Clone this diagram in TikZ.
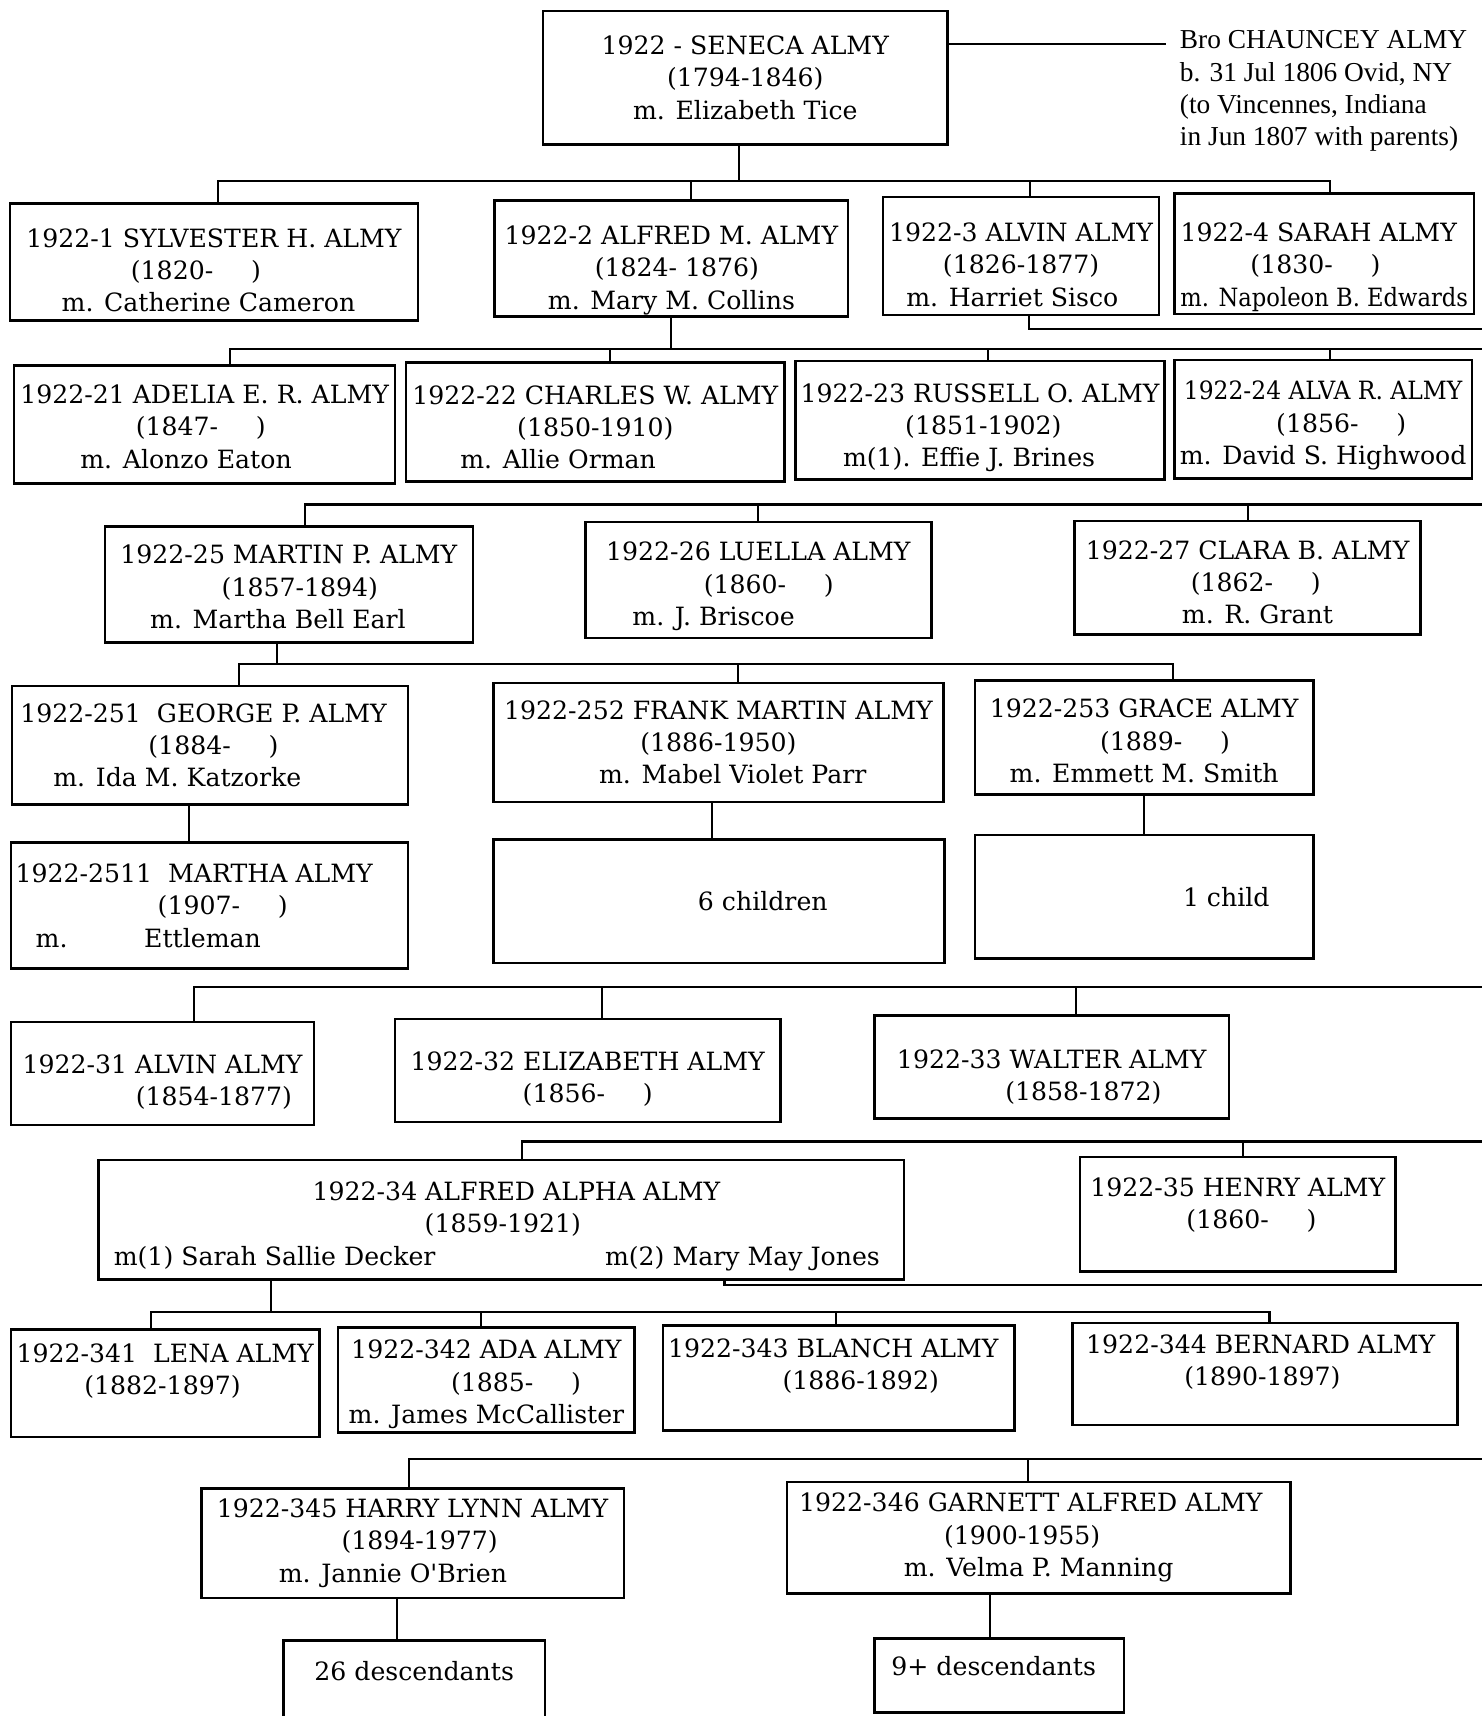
\documentclass[tikz,border=0pt]{standalone}
\usepackage{fontspec}
\setmainfont{DejaVu Serif}
\newfontfamily\brofont{Liberation Serif}
\newcommand\nudge[2]{\hspace*{#1}#2\hspace*{-#1}}
\newcommand\nodeath{\hspace{1.5em}}
\newcommand\sink[1]{\rule{0pt}{#1}}

\tikzset{
  person/.style={draw, line width=2.3pt, align=center, inner sep=0pt,
    font=\fontsize{23}{29.5}\selectfont},
  bro/.style={align=left, inner sep=0pt, font=\brofont\fontsize{25}{29.5}\selectfont},
  link/.style={line width=1.9pt},
}

\begin{document}
\begin{tikzpicture}[x=1pt, y=-1pt]
  \fill[white] (0,0) rectangle (1354,1568);
  \useasboundingbox (0,0) rectangle (1354,1568);
  \coordinate (edge) at (1354,0);

  % Seneca and brother
  \node[person, minimum width=370pt, minimum height=122pt] (seneca) at (681,71)
    {1922 - SENECA ALMY\\(1794-1846)\\m. Elizabeth Tice};
  \node[bro, anchor=north west] (bro) at (1078,28)
    {Bro CHAUNCEY ALMY\\b. 31 Jul 1806 Ovid, NY\\(to Vincennes, Indiana\\in Jun 1807 with parents)};
  \draw[link] (seneca.east |- 0,40) -- ([xshift=-13pt]bro.west |- 0,40);

  % children of Seneca
  \node[person, minimum width=373pt, minimum height=107pt] (b1) at (195.5,239.5)
    {\sink{32pt}1922-1 SYLVESTER H. ALMY\\\nudge{-33pt}{(1820-\nodeath)}\\\nudge{-5pt}{m. Catherine Cameron}};
  \node[person, minimum width=323pt, minimum height=106pt] (b2) at (613.5,236)
    {\sink{39pt}1922-2 ALFRED M. ALMY\\\nudge{10pt}{(1824- 1876)}\\m. Mary M. Collins};
  \node[person, minimum width=252pt, minimum height=108pt] (b3) at (933,234)
    {\sink{33pt}1922-3 ALVIN ALMY\\(1826-1877)\\\nudge{-8pt}{m. Harriet Sisco}};
  \node[person, minimum width=274pt, minimum height=110pt] (b4) at (1210,232)
    {\sink{41pt}\nudge{-5pt}{1922-4 SARAH ALMY}\\\nudge{-16pt}{(1830-\nodeath)}\\\scalebox{0.9}[1]{m. Napoleon B. Edwards}};

  \draw[link] ([xshift=-6pt]seneca.south) -- ([xshift=-6pt]seneca.south |- 0,165);
  \draw[link] ([xshift=4pt]b1.north) |- ([xshift=5pt]b4.north |- 0,165) -- ([xshift=5pt]b4.north);
  \foreach \n/\dx in {b2/18pt, b3/8pt}
    \draw[link] ([xshift=\dx]\n.north) -- ([xshift=\dx]\n.north |- 0,165);

  % children of Alfred M.
  \node[person, minimum width=348pt, minimum height=108pt] (c21) at (187,388)
    {\sink{21pt}1922-21 ADELIA E. R. ALMY\\\nudge{-7pt}{(1847-\nodeath)}\\\nudge{-17pt}{m. Alonzo Eaton}};
  \node[person, minimum width=346pt, minimum height=109pt] (c22) at (544,385.5)
    {\sink{27pt}1922-22 CHARLES W. ALMY\\(1850-1910)\\\nudge{-34pt}{m. Allie Orman}};
  \node[person, minimum width=337pt, minimum height=108pt] (c23) at (895.5,384)
    {\sink{31pt}1922-23 RUSSELL O. ALMY\\\nudge{6pt}{(1851-1902)}\\\nudge{-10pt}{m(1). Effie J. Brines}};
  \node[person, minimum width=272pt, minimum height=108pt] (c24) at (1209,383)
    {\sink{29pt}\scalebox{0.93}[1]{1922-24 ALVA R. ALMY}\\\nudge{33pt}{(1856-\nodeath)}\\m. David S. Highwood};
  \node[person, minimum width=336pt, minimum height=106pt] (c25) at (264,534)
    {\sink{22pt}1922-25 MARTIN P. ALMY\\\nudge{20pt}{(1857-1894)}\\\nudge{-10pt}{m. Martha Bell Earl}};
  \node[person, minimum width=316pt, minimum height=106pt] (c26) at (693,530)
    {\sink{29pt}1922-26 LUELLA ALMY\\\nudge{19pt}{(1860-\nodeath)}\\\nudge{-41pt}{m. J. Briscoe}};
  \node[person, minimum width=316pt, minimum height=104pt] (c27) at (1140,528)
    {\sink{25pt}1922-27 CLARA B. ALMY\\\nudge{15pt}{(1862-\nodeath)}\\\nudge{9pt}{m. R. Grant}};

  \draw[link] (b2.south) -- (b2.south |- 0,319);
  \draw[link] ([xshift=23pt]c21.north) |- (edge |- 0,319);
  \foreach \n/\dx in {c22/13pt, c23/7pt, c24/6pt}
    \draw[link] ([xshift=\dx]\n.north) -- ([xshift=\dx]\n.north |- 0,319);
  \draw[link] ([xshift=15pt]c25.north) |- (edge |- 0,461);
  \foreach \n in {c26, c27}
    \draw[link] (\n.north) -- (\n.north |- 0,461);
  \draw[link] ([xshift=7pt]b3.south) |- (edge |- 0,301);

  % children of Martin P.
  \node[person, minimum width=362pt, minimum height=108pt] (g251) at (192,681)
    {\nudge{-6pt}{1922-251\ \ GEORGE P. ALMY}\\\nudge{6pt}{(1884-\nodeath)}\\\nudge{-30pt}{m. Ida M. Katzorke}};
  \node[person, minimum width=411pt, minimum height=109pt] (g252) at (656.5,678.5)
    {1922-252 FRANK MARTIN ALMY\\(1886-1950)\\\nudge{13pt}{m. Mabel Violet Parr}};
  \node[person, minimum width=309pt, minimum height=104pt] (g253) at (1045.5,674)
    {\sink{23pt}1922-253 GRACE ALMY\\\nudge{38pt}{(1889-\nodeath)}\\m. Emmett M. Smith};
  \node[person, minimum width=363pt, minimum height=115pt] (gg2511) at (191.5,827.5)
    {\nudge{-14pt}{1922-2511\ \ MARTHA ALMY}\\\nudge{24pt}{(1907-\nodeath)}\\\nudge{-56pt}{m.\hspace{70pt}Ettleman}};
  \node[person, minimum width=412pt, minimum height=113pt] (k6) at (657,823.5)
    {\nudge{40pt}{6 children}};
  \node[person, minimum width=309pt, minimum height=113pt] (k1) at (1045.5,819.5)
    {\nudge{75pt}{1 child}};

  \draw[link] ([xshift=-11pt]c25.south) -- ([xshift=-11pt]c25.south |- 0,607);
  \draw[link] ([xshift=26pt]g251.north) |- ([xshift=26pt]g253.north |- 0,607) -- ([xshift=26pt]g253.north);
  \draw[link] ([xshift=18pt]g252.north) -- ([xshift=18pt]g252.north |- 0,607);
  \draw[link] ([xshift=-19pt]g251.south) -- ([xshift=-19pt]g251.south |- gg2511.north);
  \draw[link] ([xshift=-6pt]g252.south) -- ([xshift=-6pt]g252.south |- k6.north);
  \draw[link] (g253.south) -- (g253.south |- k1.north);

  % children of Alvin
  \node[person, minimum width=277pt, minimum height=94pt] (a31) at (148.5,981)
    {\sink{32pt}1922-31 ALVIN ALMY\\\nudge{47pt}{(1854-1877)}};
  \node[person, minimum width=352pt, minimum height=94pt] (a32) at (537,978)
    {\sink{33pt}1922-32 ELIZABETH ALMY\\(1856-\nodeath)};
  \node[person, minimum width=324pt, minimum height=94pt] (a33) at (961,975)
    {\sink{36pt}1922-33 WALTER ALMY\\\nudge{29pt}{(1858-1872)}};
  \node[person, minimum width=736pt, minimum height=109pt] (a34) at (458,1114.5)
    {\sink{29pt}\nudge{14pt}{1922-34 ALFRED ALPHA ALMY}\\\nudge{3pt}{(1859-1921)}\\
     \nudge{-4pt}{\makebox[700pt]{m(1) Sarah Sallie Decker\hfill m(2) Mary May Jones}}};
  \node[person, minimum width=288pt, minimum height=105pt] (a35) at (1131,1109.5)
    {\sink{26pt}1922-35 HENRY ALMY\\\nudge{25pt}{(1860-\nodeath)}\\\mbox{}};

  \draw[link] ([xshift=29pt]a31.north) |- (edge |- 0,902);
  \foreach \n/\dx in {a32/13pt, a33/22pt}
    \draw[link] ([xshift=\dx]\n.north) -- ([xshift=\dx]\n.north |- 0,902);
  \draw[link] ([xshift=19pt]a34.north) |- (edge |- 0,1043);
  \draw[link] ([xshift=5pt]a35.north) -- ([xshift=5pt]a35.north |- 0,1043);

  % children of Alfred Alpha
  \node[person, minimum width=282pt, minimum height=98pt] (e341) at (151,1264)
    {\sink{21pt}1922-341\ \ LENA ALMY\\\nudge{-5pt}{(1882-1897)}\\\mbox{}};
  \node[person, minimum width=271pt, minimum height=96pt] (e342) at (444.5,1261)
    {\sink{25pt}1922-342 ADA ALMY\\\nudge{54pt}{(1885-\nodeath)}\\m. James McCallister};
  \node[person, minimum width=321pt, minimum height=96pt] (e343) at (766.5,1259)
    {\sink{21pt}\nudge{-5pt}{1922-343 BLANCH ALMY}\\\nudge{40pt}{(1886-1892)}\\\mbox{}};
  \node[person, minimum width=352pt, minimum height=93pt] (e344) at (1156,1255.5)
    {\sink{21pt}\nudge{-4pt}{1922-344 BERNARD ALMY}\\\nudge{-5pt}{(1890-1897)}\\\mbox{}};
  \node[person, minimum width=386pt, minimum height=100pt] (h345) at (377,1410)
    {1922-345 HARRY LYNN ALMY\\\nudge{13pt}{(1894-1977)}\\\nudge{-18pt}{m. Jannie O\textquotesingle Brien}};
  \node[person, minimum width=460pt, minimum height=102pt] (h346) at (949,1405)
    {\nudge{-7pt}{1922-346 GARNETT ALFRED ALMY}\\\nudge{-30pt}{(1900-1955)}\\m. Velma P. Manning};
  \node[person, minimum width=239pt, minimum height=71pt, text depth=16pt] (d26) at (378.5,1534.5)
    {26 descendants};
  \node[person, minimum width=228pt, minimum height=68pt, text depth=18pt] (d9) at (913,1531)
    {\nudge{-5pt}{9+ descendants}};

  \draw[link] ([xshift=-210pt]a34.south) -- ([xshift=-210pt]a34.south |- 0,1199);
  \draw[link] ([xshift=-13pt]e341.north) |- ([xshift=4pt]e344.north |- 0,1199) -- ([xshift=4pt]e344.north);
  \foreach \n/\dx in {e342/-5pt, e343/-3pt}
    \draw[link] ([xshift=\dx]\n.north) -- ([xshift=\dx]\n.north |- 0,1199);
  \draw[link] ([xshift=204pt]a34.south) |- (edge |- 0,1174);
  \draw[link] ([xshift=-3pt]h345.north) |- (edge |- 0,1333);
  \draw[link] ([xshift=-10pt]h346.north) -- ([xshift=-10pt]h346.north |- 0,1333);
  \draw[link] ([xshift=-14pt]h345.south) -- ([xshift=-14pt]h345.south |- d26.north);
  \draw[link] ([xshift=-44pt]h346.south) -- ([xshift=-44pt]h346.south |- d9.north);
\end{tikzpicture}
\end{document}
